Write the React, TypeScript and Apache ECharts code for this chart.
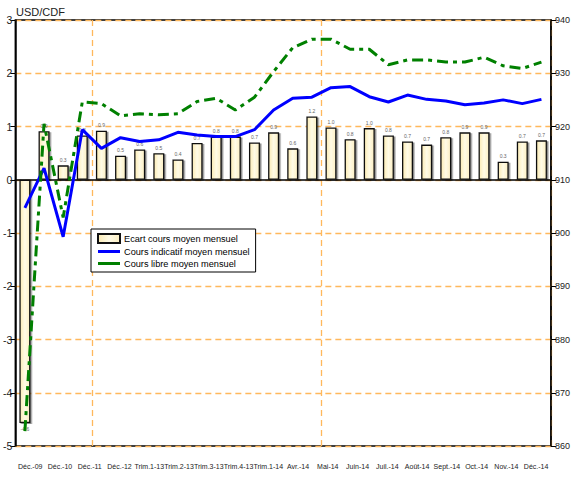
import React, { useEffect, useRef } from "react";
import * as echarts from "echarts";

const categories = [
  "Déc.-09", "Déc.-10", "Déc.-11", "Déc.-12",
  "Janv.-13", "Févr.-13", "Mars-13", "Avr.-13", "Mai-13", "Juin-13",
  "Juil.-13", "Août-13", "Sept.-13", "Oct.-13", "Nov.-13", "Déc.-13",
  "Janv.-14", "Févr.-14", "Mars-14", "Avr.-14", "Mai-14", "Juin-14",
  "Juil.-14", "Août-14", "Sept.-14", "Oct.-14", "Nov.-14", "Déc.-14",
];

const tickLabels = [
  "Déc.-09", "Déc.-10", "Déc.-11", "Déc.-12", "Trim.1-13", "Trim.2-13",
  "Trim.3-13", "Trim.4-13", "Trim.1-14", "Avr.-14", "Mai-14", "Juin-14",
  "Juil.-14", "Août-14", "Sept.-14", "Oct.-14", "Nov.-14", "Déc.-14",
];

const ecartValues = [
  -4.57, 0.91, 0.27, 0.83, 0.92, 0.45, 0.57, 0.5, 0.38, 0.69, 0.81, 0.81, 0.7, 0.89,
  0.59, 1.19, 0.98, 0.76, 0.97, 0.83, 0.72, 0.66, 0.8, 0.89, 0.89, 0.34, 0.72, 0.74,
];

const coursIndicatif = [
  904.7, 912.2, 899.3, 919.4, 915.9, 917.9, 917.2, 917.5, 918.9, 918.4, 918.1, 918.1,
  919.4, 923.1, 925.3, 925.5, 927.3, 927.5, 925.6, 924.6, 925.9, 925.1, 924.8, 924.1,
  924.4, 925.0, 924.3, 925.1,
];

const coursLibre = [
  862.8, 920.5, 902.9, 924.6, 924.3, 922.0, 922.4, 922.2, 922.4, 924.7, 925.3, 923.1,
  925.5, 930.3, 934.8, 936.4, 936.4, 934.5, 934.5, 931.6, 932.5, 932.5, 932.1, 932.1,
  933.0, 931.4, 930.9, 932.1,
];

const verticalLineIndices = [4, 16];

const FONT = "'Liberation Sans', Arial, sans-serif";
const ORANGE = "#FFB85C";
const LINE_ICON = "path://M0,0 L22,0 L22,3 L0,3 Z";

export default function App() {
  const ref = useRef<HTMLDivElement>(null);

  useEffect(() => {
    if (!ref.current) return;
    const chart = echarts.init(ref.current, null, { renderer: "svg" });
    const barColor = new echarts.graphic.LinearGradient(0, 0, 1, 0, [
      { offset: 0, color: "#FBEBB3" },
      { offset: 0.5, color: "#FFFBE6" },
      { offset: 1, color: "#FCEFC2" },
    ]);
    chart.setOption({
      animation: false,
      backgroundColor: "#ffffff",
      textStyle: { fontFamily: FONT },
      title: {
        text: "USD/CDF",
        left: 11,
        top: 1,
        textStyle: { fontFamily: FONT, fontSize: 11, fontWeight: "normal", color: "#222" },
      },
      grid: {
        left: 15,
        right: 33,
        top: 20,
        bottom: 32,
        show: true,
        borderColor: "#000",
        borderWidth: 1.5,
        backgroundColor: "transparent",
      },
      legend: {
        orient: "vertical",
        left: 91,
        top: 229,
        padding: [4, 6, 4, 6],
        itemWidth: 22,
        itemHeight: 9,
        itemGap: 3,
        borderColor: "#000",
        borderWidth: 1,
        backgroundColor: "#fff",
        symbolKeepAspect: true,
        textStyle: { fontFamily: FONT, fontSize: 9.2, color: "#000", padding: [0, 0, 0, -1] },
        data: [
          { name: "Ecart cours moyen mensuel", icon: "rect" },
          { name: "Cours indicatif moyen mensuel", icon: LINE_ICON },
          { name: "Cours libre moyen mensuel", icon: LINE_ICON },
        ],
      },
      xAxis: [
        {
          type: "category",
          data: categories,
          position: "top",
          boundaryGap: true,
          axisLine: { show: true, onZero: true, lineStyle: { color: "#000", width: 1.5 } },
          axisTick: { show: false },
          axisLabel: { show: false },
          splitLine: {
            show: true,
            interval: (index: number) => verticalLineIndices.includes(index),
            lineStyle: { color: ORANGE, type: [6, 4], width: 1.3 },
          },
        },
        {
          type: "category",
          data: tickLabels,
          position: "bottom",
          boundaryGap: true,
          axisLine: { show: false },
          axisTick: { show: false },
          splitLine: { show: false },
          axisLabel: { interval: 0, margin: 17, fontSize: 7, color: "#222", fontFamily: FONT },
        },
      ],
      yAxis: [
        {
          type: "value",
          min: -5,
          max: 3,
          interval: 1,
          position: "left",
          axisLine: { show: true, lineStyle: { color: "#000", width: 1.5 } },
          axisTick: { show: true, inside: false, length: 5, lineStyle: { color: "#000" } },
          axisLabel: { fontSize: 10.5, color: "#222", margin: 3, fontFamily: FONT },
          splitLine: { show: true, lineStyle: { color: ORANGE, type: [6, 4], width: 1.3 } },
        },
        {
          type: "value",
          min: 860,
          max: 940,
          interval: 10,
          position: "right",
          axisLine: { show: true, lineStyle: { color: "#000", width: 1.5 } },
          axisTick: { show: true, inside: false, length: 5, lineStyle: { color: "#000" } },
          axisLabel: { fontSize: 9, color: "#222", margin: 4, fontFamily: FONT },
          splitLine: { show: false },
        },
      ],
      series: [
        {
          name: "Ecart cours moyen mensuel",
          type: "bar",
          xAxisIndex: 0,
          yAxisIndex: 0,
          barWidth: 11,
          data: ecartValues.map((v) => ({
            value: v,
            label: { position: v < 0 ? "bottom" : "top" },
          })),
          itemStyle: {
            color: barColor,
            borderColor: "#111",
            borderWidth: 1.3,
            shadowColor: "rgba(0,0,0,0.45)",
            shadowOffsetX: 1.5,
            shadowOffsetY: 1,
            shadowBlur: 1,
          },
          label: {
            show: true,
            fontSize: 5,
            color: "#666",
            distance: 3,
            fontFamily: FONT,
            formatter: (p: any) => Number(p.value).toFixed(1),
          },
          z: 2,
        },
        {
          name: "Cours indicatif moyen mensuel",
          type: "line",
          xAxisIndex: 0,
          yAxisIndex: 1,
          data: coursIndicatif,
          symbol: "none",
          lineStyle: { color: "#0000FF", width: 3 },
          itemStyle: { color: "#0000FF" },
          z: 3,
        },
        {
          name: "Cours libre moyen mensuel",
          type: "line",
          xAxisIndex: 0,
          yAxisIndex: 1,
          data: coursLibre,
          symbol: "none",
          lineStyle: { color: "#008000", width: 3, type: [11, 5, 4, 5] },
          itemStyle: { color: "#008000" },
          z: 4,
        },
      ],
    });
    return () => chart.dispose();
  }, []);

  return (
    <div
      ref={ref}
      style={{ position: "absolute", left: 0, top: 0, width: 584, height: 478 }}
    />
  );
}
